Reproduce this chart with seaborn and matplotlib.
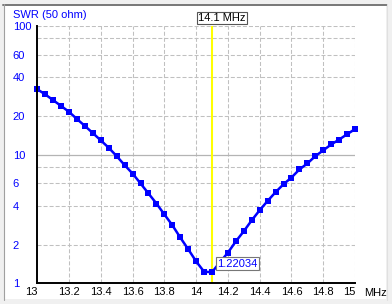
import matplotlib
matplotlib.use("Agg")
import matplotlib.pyplot as plt
import matplotlib.ticker as mticker
from matplotlib.patches import Rectangle
from matplotlib.lines import Line2D
import seaborn as sns
import pandas as pd

# ---- data ----
freq_mhz = [13.00, 13.05, 13.10, 13.15, 13.20, 13.25, 13.30, 13.35, 13.40, 13.45,
            13.50, 13.55, 13.60, 13.65, 13.70, 13.75, 13.80, 13.85, 13.90, 13.95,
            14.00, 14.05, 14.10, 14.15, 14.20, 14.25, 14.30, 14.35, 14.40, 14.45,
            14.50, 14.55, 14.60, 14.65, 14.70, 14.75, 14.80, 14.85, 14.90, 14.95,
            15.00]
swr = [32.2, 29.4, 26.5, 23.9, 21.5, 18.9, 16.7, 14.7, 12.9, 11.3,
       9.73, 8.28, 7.13, 5.97, 4.99, 4.17, 3.43, 2.83, 2.27, 1.84,
       1.48, 1.23, 1.22034, 1.46, 1.73, 2.12, 2.54, 3.09, 3.70, 4.37,
       5.11, 5.89, 6.64, 7.67, 8.54, 9.73, 10.8, 12.0, 13.1, 14.4,
       15.8]
x_ticks = [13.0, 13.2, 13.4, 13.6, 13.8, 14.0, 14.2, 14.4, 14.6, 14.8, 15.0]
x_tick_labels = ["13", "13.2", "13.4", "13.6", "13.8", "14", "14.2", "14.4", "14.6", "14.8", "15"]
y_ticks = [1, 2, 4, 6, 10, 20, 40, 60, 100]
y_tick_labels = ["1", "2", "4", "6", "10", "20", "40", "60", "100"]
y_minor_grid = [8, 80]
marker_freq = 14.1
marker_label = "14.1 MHz"
min_label = "1.22034"

df = pd.DataFrame({"freq": freq_mhz, "swr": swr})

sns.set_style("white")
plt.rcParams["font.family"] = ["Liberation Sans", "DejaVu Sans"]
plt.rcParams["lines.scale_dashes"] = False

W, H = 392, 304
fig = plt.figure(figsize=(W / 100, H / 100), dpi=100)
fig.patch.set_facecolor("#f0f0f0")

def fx(px):
    return px / W

def fy(py):
    return 1 - py / H

# panel
fig.add_artist(Rectangle((fx(4), fy(299)), fx(386) - fx(4), fy(5) - fy(299),
                         transform=fig.transFigure, facecolor="white", edgecolor="none", zorder=0))
fig.add_artist(Line2D([fx(3), fx(387)], [fy(4.5), fy(4.5)], transform=fig.transFigure,
                      color="#777777", lw=1.4, zorder=1))
fig.add_artist(Line2D([fx(3.5), fx(3.5)], [fy(4), fy(300)], transform=fig.transFigure,
                      color="#a0a0a0", lw=0.8, zorder=1))
fig.add_artist(Line2D([fx(386.5), fx(386.5)], [fy(4), fy(300)], transform=fig.transFigure,
                      color="#e0e0e0", lw=0.8, zorder=1))

L, R, T, B = 37.3, 355.0, 26.0, 283.3
ax = fig.add_axes([fx(L), fy(B), fx(R) - fx(L), fy(T) - fy(B)])
ax.set_facecolor("white")
ax.set_yscale("log")
ax.set_xlim(13.0, 15.0)
ax.set_ylim(1, 100)

grid_dash = (0, (2.9, 1.45))
for xv in x_ticks[1:]:
    ax.axvline(xv, color="#c0c0c0", lw=0.75, ls=grid_dash, zorder=1)
for yv in y_ticks[1:] + y_minor_grid:
    if yv == 10:
        ax.axhline(yv, color="#b4b4b4", lw=0.9, ls="-", zorder=1)
    else:
        ax.axhline(yv, color="#c0c0c0", lw=0.75, ls=grid_dash, zorder=1)

ax.axvline(marker_freq, color="#ffff00", lw=1.5, zorder=2)

sns.lineplot(data=df, x="freq", y="swr", ax=ax, color="#0000ff", lw=1.8,
             marker="s", markersize=3.8, markeredgewidth=0, markerfacecolor="#0000ff",
             clip_on=False, zorder=3)

ax.yaxis.set_major_locator(mticker.FixedLocator(y_ticks))
ax.yaxis.set_minor_locator(mticker.NullLocator())
ax.set_yticklabels(y_tick_labels)
ax.set_xticks(x_ticks)
ax.set_xticklabels(x_tick_labels)
ax.tick_params(axis="both", length=0, labelsize=8)
ax.tick_params(axis="y", pad=17.6, labelcolor="#0000ff")
ax.tick_params(axis="x", pad=2.6, labelcolor="black")
for lbl in ax.get_yticklabels():
    lbl.set_horizontalalignment("left")
xl = ax.get_xticklabels()
xl[0].set_horizontalalignment("right")
xl[-1].set_horizontalalignment("right")
ax.set_xlabel("")
ax.set_ylabel("")

for side in ["top", "right"]:
    ax.spines[side].set_visible(False)
for side in ["left", "bottom"]:
    ax.spines[side].set_color("black")
    ax.spines[side].set_linewidth(1.4)
    ax.spines[side].set_zorder(4)

fig.text(fx(13), fy(14.7), "SWR (50 ohm)", color="#0000ff", fontsize=8, ha="left", va="center")
fig.text(fx(364), fy(293.3), "MHz", color="black", fontsize=8, ha="left", va="center")
fig.text(fx(198), fy(17.9), marker_label, color="black", fontsize=8, ha="left", va="center",
         bbox=dict(boxstyle="square,pad=0.12", fc="white", ec="#555555", lw=0.8))
fig.text(fx(217), fy(263.7), min_label, color="#0000ff", fontsize=8, ha="left", va="center",
         bbox=dict(boxstyle="square,pad=0.12", fc="white", ec="#777777", lw=0.8), zorder=5)

fig.savefig("out.png", dpi=100, facecolor=fig.get_facecolor())
